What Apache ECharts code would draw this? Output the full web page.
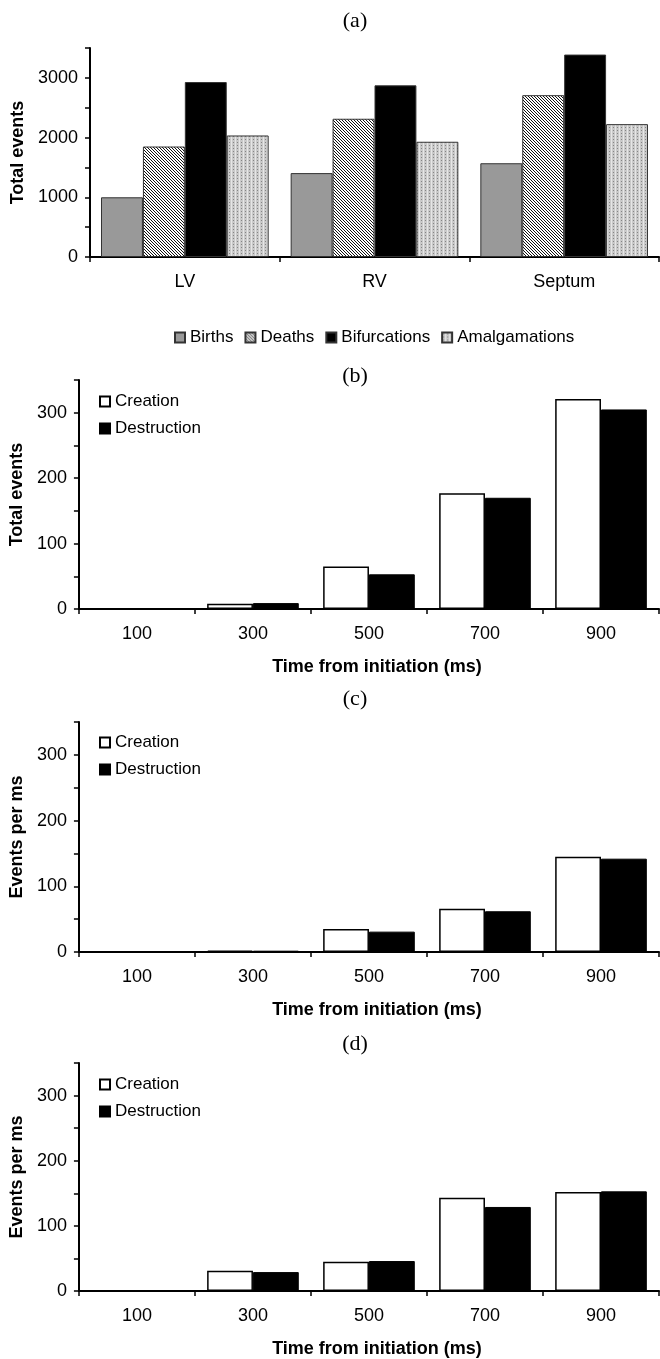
<!DOCTYPE html>
<html>
<head>
<meta charset="utf-8">
<script src="https://cdn.jsdelivr.net/npm/echarts@6/dist/echarts.min.js"></script>
<style>
  html, body { margin: 0; padding: 0; background: #fff; }
  #chart { width: 660px; height: 1359px; }
</style>
</head>
<body>
<div id="chart"></div>
<script>
// panel (a)
const regions = ['LV', 'RV', 'Septum'];
const births = [1000, 1405, 1570];
const deaths = [1850, 2315, 2710];
const bifurcations = [2930, 2875, 3390];
const amalgamations = [2035, 1930, 2225];

// panels (b), (c), (d)
const times = ['100', '300', '500', '700', '900'];
const creationB = [0, 8, 65, 177, 321];
const destructionB = [0, 9, 53, 170, 305];
const creationC = [0, 2, 35, 66, 145];
const destructionC = [0, 2, 31, 62, 142];
const creationD = [0, 31, 45, 143, 152];
const destructionD = [0, 29, 46, 129, 153];

const SANS = 'Liberation Sans, Arial, sans-serif';
const SERIF = 'Liberation Serif, Times New Roman, serif';

// diagonal "\" hatch, drawn pixel by pixel so the tile joins cleanly
function hatchPattern() {
    const n = 3;
    const c = document.createElement('canvas');
    c.width = n; c.height = n;
    const g = c.getContext('2d');
    g.fillStyle = '#fff';
    g.fillRect(0, 0, n, n);
    g.fillStyle = '#111';
    for (let y = 0; y < n; y++) {
        for (let x = 0; x < n; x++) {
            if ((y - x + n) % n === 0) g.fillRect(x, y, 1, 1);
        }
    }
    return { image: c, repeat: 'repeat' };
}

function dotPattern() {
    const c = document.createElement('canvas');
    c.width = 4; c.height = 3;
    const g = c.getContext('2d');
    g.fillStyle = '#c9c9c9';
    g.fillRect(0, 0, 4, 3);
    g.fillStyle = '#858585';
    g.fillRect(1, 1, 1, 1);
    g.fillStyle = '#e6e6e6';
    g.fillRect(3, 0, 1, 3);
    return { image: c, repeat: 'repeat' };
}

// grid boxes
const grids = [
    { left: 90, top: 48, width: 569, height: 209 },
    { left: 78, top: 380, width: 581, height: 229 },
    { left: 78, top: 722, width: 581, height: 230 },
    { left: 78, top: 1063, width: 581, height: 231 }
];

const axisLine = { lineStyle: { color: '#000', width: 2 } };
const axisTick = { show: true, inside: false, length: 5, lineStyle: { color: '#000', width: 1.5 } };
const labelStyle = { color: '#000', fontSize: 18, fontFamily: SANS };
const nameStyle = { color: '#000', fontSize: 18, fontWeight: 'bold', fontFamily: SANS };

const xAxis = grids.map((g, i) => ({
    type: 'category',
    gridIndex: i,
    data: i === 0 ? regions : times,
    boundaryGap: true,
    axisLine,
    axisTick,
    axisLabel: Object.assign({ margin: 16 }, labelStyle),
    name: i === 0 ? '' : 'Time from initiation (ms)',
    nameLocation: 'middle',
    nameGap: 49,
    nameTextStyle: Object.assign({ padding: [0, 0, 0, 16] }, nameStyle),
    splitLine: { show: false }
}));

const yAxis = grids.map((g, i) => ({
    type: 'value',
    gridIndex: i,
    min: 0,
    max: i === 0 ? 3500 : 350,
    interval: i === 0 ? 500 : 50,
    axisLine: Object.assign({ show: true }, axisLine),
    axisTick,
    axisLabel: Object.assign({
        margin: 12,
        formatter: v => (v % (i === 0 ? 1000 : 100) === 0 ? String(v) : '')
    }, labelStyle),
    splitLine: { show: false },
    name: i <= 1 ? 'Total events' : 'Events per ms',
    nameLocation: 'middle',
    nameRotate: 90,
    nameGap: i === 0 ? 59 : 47,
    nameTextStyle: nameStyle
}));

const edge = { borderColor: '#333', borderWidth: 1 };
const seriesA = [
    { name: 'Births', data: births, itemStyle: Object.assign({ color: '#999' }, edge) },
    { name: 'Deaths', data: deaths, itemStyle: Object.assign({ color: hatchPattern() }, edge) },
    { name: 'Bifurcations', data: bifurcations, itemStyle: Object.assign({ color: '#000' }, edge) },
    { name: 'Amalgamations', data: amalgamations, itemStyle: Object.assign({ color: dotPattern() }, edge) }
].map(s => Object.assign({
    type: 'bar', xAxisIndex: 0, yAxisIndex: 0,
    barGap: '0%', barCategoryGap: '11.6%', silent: true
}, s));

const pairs = [[creationB, destructionB], [creationC, destructionC], [creationD, destructionD]];
const seriesT = [];
pairs.forEach(([cr, de], k) => {
    const idx = k + 1;
    seriesT.push({
        type: 'bar', name: 'Creation', data: cr, xAxisIndex: idx, yAxisIndex: idx,
        barGap: '0%', barCategoryGap: '21%', silent: true,
        itemStyle: { color: '#fff', borderColor: '#000', borderWidth: 1.5 }
    });
    seriesT.push({
        type: 'bar', name: 'Destruction', data: de, xAxisIndex: idx, yAxisIndex: idx,
        barGap: '0%', barCategoryGap: '21%', silent: true,
        itemStyle: { color: '#000', borderColor: '#000', borderWidth: 1 }
    });
});

const titleTops = [10, 365, 688, 1033];
const title = ['(a)', '(b)', '(c)', '(d)'].map((t, i) => ({
    text: t,
    left: 355,
    textAlign: 'center',
    top: titleTops[i],
    padding: 0,
    textStyle: { fontFamily: SERIF, fontSize: 22, fontWeight: 'normal', color: '#000' }
}));

const legendText = { color: '#000', fontSize: 17, fontFamily: SANS };
const legend = [{
    data: ['Births', 'Deaths', 'Bifurcations', 'Amalgamations'],
    left: 174, top: 329, padding: 0,
    itemWidth: 10, itemHeight: 10, itemGap: 11,
    icon: 'rect',
    textStyle: legendText,
    selectedMode: false
}];
[393, 734, 1076].forEach(top => {
    legend.push({
        data: ['Creation', 'Destruction'],
        orient: 'vertical',
        left: 99, top, padding: 0,
        itemWidth: 10, itemHeight: 10, itemGap: 10,
        icon: 'rect',
        textStyle: legendText,
        selectedMode: false
    });
});

const chart = echarts.init(document.getElementById('chart'), null, { renderer: 'canvas' });
chart.setOption({
    backgroundColor: '#fff',
    animation: false,
    title,
    legend,
    grid: grids,
    xAxis,
    yAxis,
    series: seriesA.concat(seriesT)
});
</script>
</body>
</html>
